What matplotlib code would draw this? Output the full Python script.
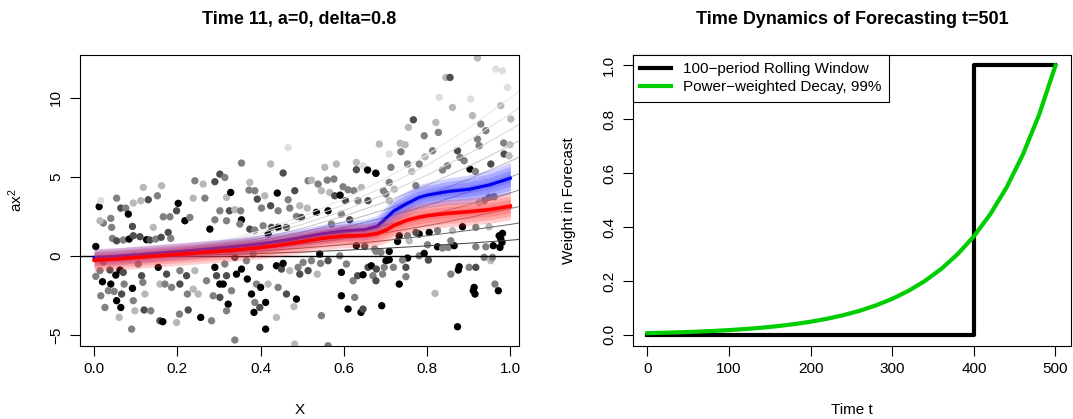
import numpy as np
import matplotlib.pyplot as plt

plt.rcParams['font.family'] = ['Liberation Sans', 'DejaVu Sans']
plt.rcParams['mathtext.fontset'] = 'custom'
plt.rcParams['mathtext.rm'] = 'Liberation Sans'
plt.rcParams['mathtext.it'] = 'Liberation Sans'

# left panel: observations (x, y, grey level 0=black)
pts_x = [0.012, 0.004, 0.016, 0.022, 0.014, 0.040, 0.054, 0.064, 0.076, 0.082,
         0.094, 0.112, 0.130, 0.152, 0.118, 0.162, 0.092, 0.042, 0.044, 0.054,
         0.070, 0.084, 0.094, 0.110, 0.126, 0.134, 0.142, 0.148, 0.161, 0.166,
         0.182, 0.178, 0.184, 0.202, 0.198, 0.218, 0.230, 0.238, 0.242, 0.262,
         0.266, 0.278, 0.290, 0.302, 0.314, 0.318, 0.318, 0.302, 0.290, 0.325,
         0.004, 0.014, 0.020, 0.022, 0.038, 0.040, 0.052, 0.062, 0.070, 0.072,
         0.092, 0.054, 0.064, 0.026, 0.016, 0.034, 0.048, 0.066, 0.094, 0.098,
         0.106, 0.114, 0.117, 0.122, 0.120, 0.136, 0.158, 0.165, 0.090, 0.060,
         0.154, 0.158, 0.174, 0.186, 0.170, 0.206, 0.206, 0.205, 0.198, 0.222,
         0.224, 0.226, 0.238, 0.242, 0.250, 0.256, 0.270, 0.282, 0.290, 0.294,
         0.302, 0.310, 0.314, 0.318, 0.322, 0.302, 0.286, 0.318,
         0.354, 0.424, 0.466, 0.454, 0.554, 0.582, 0.630, 0.646, 0.657, 0.630,
         0.676, 0.374, 0.328, 0.372, 0.386, 0.392, 0.410, 0.440, 0.424, 0.402,
         0.442, 0.466, 0.470, 0.482, 0.494, 0.514, 0.522, 0.534, 0.538, 0.546,
         0.560, 0.562, 0.576, 0.566, 0.578, 0.591, 0.598, 0.604, 0.610, 0.624,
         0.634, 0.642, 0.658, 0.338, 0.352, 0.354, 0.350, 0.374, 0.386, 0.406,
         0.418, 0.442, 0.426, 0.462, 0.486, 0.512, 0.498, 0.570, 0.594, 0.614,
         0.630, 0.650, 0.674, 0.326, 0.338, 0.354, 0.366, 0.368, 0.382, 0.390,
         0.398, 0.418, 0.438, 0.450, 0.454, 0.470, 0.490, 0.502, 0.494, 0.514,
         0.522, 0.536, 0.544, 0.542, 0.562, 0.594, 0.590, 0.606, 0.622, 0.633,
         0.646, 0.658, 0.666, 0.670, 0.678, 0.330, 0.342, 0.378, 0.400, 0.412,
         0.386, 0.398, 0.384, 0.442, 0.462, 0.486, 0.480, 0.438, 0.412, 0.546,
         0.594, 0.626, 0.610, 0.641, 0.646, 0.338, 0.482, 0.562,
         0.921, 0.845, 0.855, 0.965, 0.981, 0.829, 0.905, 0.993, 0.861, 0.977,
         0.767, 0.755, 0.821, 0.909, 0.929, 0.941, 1.001, 0.793, 0.827, 0.735,
         0.747, 0.737, 0.813, 0.795, 0.873, 0.879, 0.921, 0.925, 0.984, 0.999,
         0.985, 0.997, 0.685, 0.709, 0.713, 0.753, 0.763, 0.781, 0.837, 0.849,
         0.889, 0.903, 0.916, 0.953, 0.677, 0.709, 0.695, 0.721, 0.701, 0.773,
         0.709, 0.937, 0.949, 0.961, 0.925, 0.885, 0.917, 0.949, 0.861, 0.825,
         0.805, 0.781, 0.773, 0.753, 0.733, 0.729, 0.757, 0.801, 0.825, 0.837,
         0.851, 0.865, 0.857, 0.917, 0.941, 0.959, 0.973, 0.977, 0.980, 0.975,
         0.981, 0.677, 0.709, 0.689, 0.753, 0.781, 0.793, 0.803, 0.701, 0.709,
         0.697, 0.719, 0.741, 0.749, 0.749, 0.693, 0.733, 0.677, 0.691, 0.819,
         0.857, 0.877, 0.875, 0.901, 0.917, 0.953, 0.957, 0.937, 0.913, 0.911,
         0.915, 0.963, 0.971, 0.873]
pts_y = [3.12, 0.60, 3.50, 2.08, 2.23, 2.38, 3.66, 3.03, 3.03, 2.65,
         3.35, 3.50, 3.56, 3.81, 4.34, 4.45, 1.87, 1.81, 1.11, 0.96,
         1.01, 1.07, 1.28, 1.22, 1.03, 1.01, 1.81, 1.07, 1.18, 2.48,
         2.48, 1.49, 1.11, 3.33, 2.86, 2.23, 2.44, 3.66, 4.76, 4.55,
         3.66, 1.70, 4.70, 5.18, 4.97, 3.71, 2.23, 2.86, 2.29, 2.86,
         -1.29, -0.93, -1.63, -0.37, -0.89, -1.78, -1.21, -0.89, -1.04, -1.78,
         -2.05, -2.83, -3.26, -3.26, -2.52, -2.20, -2.24, -2.41, -2.83, -3.47,
         -0.51, -1.25, -1.67, -2.41, -3.42, -3.47, -4.10, -4.16, -4.63, -3.89,
         -0.72, -1.78, -1.15, -1.99, -1.78, -0.93, -1.78, -3.68, -4.21, -1.25,
         -2.41, -3.42, -2.10, -0.93, -2.41, -3.89, -1.57, -4.10, -0.72, -1.25,
         -1.78, -1.78, -0.51, -1.25, -3.05, -2.62, -2.52, -3.47,
         5.88, 5.82, 6.87, 5.25, 5.61, 5.82, 5.92, 5.71, 5.44, 5.46,
         5.25, 4.66, 4.02, 4.17, 4.13, 3.60, 3.81, 3.98, 3.18, 3.03,
         2.86, 3.56, 3.03, 4.13, 3.18, 4.76, 4.80, 2.76, 4.55, 4.13,
         4.80, 2.86, 4.87, 4.02, 3.81, 3.85, 4.38, 3.50, 4.19, 4.13,
         3.50, 4.34, 3.50, 2.93, 2.86, 2.29, 2.02, 1.70, 1.64, 1.91,
         1.39, 1.81, 1.81, 1.81, 2.50, 3.03, 2.44, 2.02, 2.65, 2.29,
         0.65, 0.60, 0.44, 0.33, -0.09, -0.83, -0.30, -1.46, 0.12, -1.78,
         -0.72, -1.78, -0.62, -0.83, -0.47, -0.93, -0.72, -0.41, -1.15, -0.93,
         -0.30, -1.15, -0.47, 0.12, -0.30, -1.04, 0.01, -0.51, -1.57, -1.25,
         -1.19, -0.72, -0.62, -1.25, -0.83, -2.20, -1.15, -2.41, -1.99, -2.94,
         -2.94, -3.26, -3.57, -1.99, -2.41, -2.73, -3.21, -3.89, -4.63, -3.78,
         -2.52, -2.62, -3.36, -3.57, -3.36, -5.32, -5.58, -5.68,
         12.53, 11.30, 11.30, 11.83, 11.72, 10.04, 9.93, 10.67, 9.40, 9.51,
         8.62, 8.14, 8.45, 8.88, 8.35, 7.93, 8.67, 7.61, 7.82, 7.13,
         7.04, 6.60, 6.66, 6.28, 6.66, 6.24, 7.40, 6.98, 7.15, 7.04,
         6.45, 6.34, 7.08, 6.45, 5.61, 5.82, 5.35, 5.82, 5.44, 5.71,
         6.03, 5.50, 5.35, 5.82, 5.23, 4.66, 4.13, 4.23, 3.92, 4.45,
         3.50, 3.50, 3.71, 3.75, 3.39, 1.85, 1.81, 1.85, 1.60, 1.60,
         1.49, 1.39, 1.49, 1.28, 1.28, 0.92, 0.96, 0.71, 0.58, 0.50,
         0.54, 0.65, 0.96, 0.58, 0.58, 0.65, 1.28, 1.07, 0.86, 0.54,
         1.43, 0.29, 0.29, 0.23, -0.13, 0.01, 0.16, -0.26, -0.30, -0.24,
         -0.72, -0.72, -0.26, -0.72, -1.31, -1.15, -1.78, -1.57, -3.15, -2.37,
         -1.15, -0.68, -0.89, -0.72, -0.72, -0.30, -0.09, -0.09, -1.99, -2.20,
         -2.41, -1.78, -2.20, -4.48]
pts_gray = [0, 0, .87, .5, .72, .5, .5, .3, .5, 0,
            .72, .72, .3, .5, .72, .72, .3, .5, .5, .3,
            .5, 0, .3, .3, 0, .3, .72, .5, .3, .5,
            .5, .3, .5, 0, .3, 0, .5, .72, .5, .72,
            .5, 0, .3, .3, .5, .72, .5, .5, .5, .3,
            .5, .5, 0, .5, .3, 0, 0, 0, .3, .5,
            0, 0, 0, .5, .5, .5, .5, .3, .5, .72,
            .5, .3, .5, .72, .3, .5, .3, 0, .5, .72,
            0, .72, .3, .5, .5, .5, .3, .5, .72, .3,
            .5, .3, .72, .72, .72, 0, .5, .5, 0, .3,
            0, 0, .5, .3, 0, .3, .5, .5,
            .5, .72, .87, .3, .72, .72, .72, .87, 0, .3,
            .5, .72, 0, .5, .5, .3, .72, 0, .3, .5,
            .5, .5, .5, .3, .72, .5, .72, 0, .5, .72,
            .5, 0, .5, .72, .3, 0, .5, .3, .5, .5,
            .5, .72, .3, .72, .5, 0, .5, .3, .5, .5,
            0, 0, .3, .3, .5, .72, .3, .5, .5, .3,
            0, .3, .5, .5, .3, 0, .5, 0, .5, .5,
            .3, .72, 0, .3, 0, .72, .5, .5, .3, .3,
            .5, .72, .5, 0, .3, 0, .5, .5, .5, .3,
            0, .3, 0, .5, .3, .5, 0, 0, 0, 0,
            .5, .3, 0, .5, .3, 0, .72, .72, 0, .5,
            0, .5, 0, 0, .3, .5, .72, .5,
            .72, .72, .3, .87, .87, .87, .87, .87, .72, .72,
            .3, .72, .72, .72, .5, .5, .72, .5, .5, .72,
            .72, .5, .5, .72, .3, .5, .5, .5, .5, .72,
            .3, .72, .72, .87, .5, .5, .72, .5, .5, .5,
            .5, 0, .5, .3, 0, .5, .5, .72, .5, .5,
            .72, .5, .5, .5, .72, 0, .5, .72, .72, .5,
            0, 0, .3, .5, 0, 0, .72, .5, 0, .5,
            .5, 0, .5, .5, .5, 0, 0, 0, 0, 0,
            0, .5, 0, .5, 0, .5, 0, .3, 0, 0,
            .5, .5, .5, .3, .5, .5, 0, .3, 0, .72,
            .5, 0, 0, .5, .3, .72, .5, .5, 0, 0,
            0, .5, 0, 0]

# reference curves a*x^2, a = 1..10, read at these x
guide_x = [0, 0.1, 0.2, 0.3, 0.4, 0.5, 0.6, 0.7, 0.8, 0.9, 1.0, 1.02]
guide_y = [
    [0, .01, .04, .09, .16, .25, .36, .49, .64, .81, 1.0, 1.04],
    [0, .02, .08, .18, .32, .50, .72, .98, 1.28, 1.62, 2.0, 2.08],
    [0, .03, .12, .27, .48, .75, 1.08, 1.47, 1.92, 2.43, 3.0, 3.12],
    [0, .04, .16, .36, .64, 1.0, 1.44, 1.96, 2.56, 3.24, 4.0, 4.16],
    [0, .05, .20, .45, .80, 1.25, 1.80, 2.45, 3.20, 4.05, 5.0, 5.20],
    [0, .06, .24, .54, .96, 1.50, 2.16, 2.94, 3.84, 4.86, 6.0, 6.24],
    [0, .07, .28, .63, 1.12, 1.75, 2.52, 3.43, 4.48, 5.67, 7.0, 7.28],
    [0, .08, .32, .72, 1.28, 2.0, 2.88, 3.92, 5.12, 6.48, 8.0, 8.32],
    [0, .09, .36, .81, 1.44, 2.25, 3.24, 4.41, 5.76, 7.29, 9.0, 9.36],
    [0, .10, .40, .90, 1.60, 2.50, 3.60, 4.90, 6.40, 8.10, 10.0, 10.40],
]
guide_gray = ['0.25', '0.4', '0.5', '0.58', '0.65', '0.72', '0.78', '0.83', '0.87', '0.9']

# forecast bands
band_x = [0, .05, .1, .15, .2, .25, .3, .35, .4, .45, .5, .55, .6, .65, .68,
          .7, .72, .75, .78, .8, .85, .9, .95, 1.0]
red_mean = [-0.27, -0.2, -0.1, 0.0, 0.1, 0.2, 0.3, 0.4, 0.53, 0.7, 0.9, 1.12,
            1.26, 1.3, 1.42, 1.62, 1.92, 2.25, 2.45, 2.55, 2.7, 2.8, 2.93, 3.15]
red_hw = [0.7, 0.7, 0.7, 0.7, 0.7, 0.7, 0.7, 0.7, 0.7, 0.71, 0.72, 0.73,
          0.74, 0.76, 0.78, 0.8, 0.82, 0.84, 0.85, 0.86, 0.86, 0.86, 0.86, 0.86]
blue_mean = [-0.1, -0.03, 0.07, 0.17, 0.27, 0.38, 0.5, 0.62, 0.77, 0.95, 1.17,
             1.4, 1.58, 1.66, 1.88, 2.35, 2.85, 3.3, 3.7, 3.85, 4.08, 4.22, 4.5, 4.92]
blue_hw = [0.55, 0.55, 0.55, 0.55, 0.55, 0.55, 0.55, 0.55, 0.56, 0.57, 0.58, 0.6,
           0.62, 0.65, 0.68, 0.74, 0.78, 0.8, 0.8, 0.8, 0.85, 0.9, 0.95, 1.0]

# right panel
roll_t = [0, 400, 400, 500]
roll_w = [0, 0, 1, 1]
decay_t = list(range(0, 501, 20))
decay_w = [0.0066, 0.0080, 0.0098, 0.0120, 0.0147, 0.0180, 0.0219, 0.0268,
           0.0328, 0.0401, 0.0490, 0.0600, 0.0733, 0.0896, 0.1096, 0.1340,
           0.1638, 0.2003, 0.2449, 0.2994, 0.3660, 0.4475, 0.5472, 0.6690,
           0.8179, 1.0]

fig = plt.figure(figsize=(10.73, 4.19), dpi=100)
ax1 = fig.add_axes([0.07456, 0.17494, 0.40885, 0.69451])
ax2 = fig.add_axes([0.58966, 0.17494, 0.40848, 0.69451])

# ---- left
ax1.scatter(pts_x, pts_y, s=28, c=[str(g) for g in pts_gray], linewidths=0, zorder=1)
for gy, gc in zip(guide_y, guide_gray):
    ax1.plot(guide_x, gy, color=gc, lw=0.7, zorder=2)
ax1.axhline(0, color='black', lw=1.0, zorder=2)

bx = np.array(band_x)
bm, bw = np.array(blue_mean), np.array(blue_hw)
rm, rw = np.array(red_mean), np.array(red_hw)
for f in (1.0, 0.75, 0.5, 0.25):
    ax1.fill_between(bx, bm - f * bw, bm + f * bw, color='#3030ff', alpha=0.22, lw=0, zorder=3)
ax1.plot(bx, bm, color='#0000ee', lw=2.2, zorder=4)
for f in (1.0, 0.75, 0.5, 0.25):
    ax1.fill_between(bx, rm - f * rw, rm + f * rw, color='#ff3c3c', alpha=0.25, lw=0, zorder=5)
ax1.plot(bx, rm, color='#ff0000', lw=2.6, zorder=6)

ax1.set_xlim(-0.034, 1.020)
ax1.set_ylim(-5.68, 12.74)
ax1.set_xticks([0.0, 0.2, 0.4, 0.6, 0.8, 1.0])
ax1.set_xticklabels(['0.0', '0.2', '0.4', '0.6', '0.8', '1.0'])
ax1.set_yticks([-5, 0, 5, 10])
ax1.set_title('Time 11, a=0, delta=0.8', fontsize=13, fontweight='bold', pad=22)
ax1.set_xlabel('X', fontsize=11, va='center')
ax1.set_ylabel(r'ax$^{2}$', fontsize=11, va='center')
ax1.xaxis.set_label_coords(0.5, -0.221)
ax1.yaxis.set_label_coords(-0.147, 0.5)

# ---- right
ax2.plot(roll_t, roll_w, color='black', lw=3, label='100−period Rolling Window')
ax2.plot(decay_t, decay_w, color='#00cd00', lw=3, label='Power−weighted Decay, 99%')
ax2.set_xlim(-18, 519)
ax2.set_ylim(-0.04, 1.04)
ax2.set_xticks([0, 100, 200, 300, 400, 500])
ax2.set_yticks([0.0, 0.2, 0.4, 0.6, 0.8, 1.0])
ax2.set_yticklabels(['0.0', '0.2', '0.4', '0.6', '0.8', '1.0'])
ax2.set_title('Time Dynamics of Forecasting t=501', fontsize=13, fontweight='bold', pad=22)
ax2.set_xlabel('Time t', fontsize=11, va='center')
ax2.set_ylabel('Weight in Forecast', fontsize=11, va='center')
ax2.xaxis.set_label_coords(0.5, -0.221)
ax2.yaxis.set_label_coords(-0.145, 0.5)
leg = ax2.legend(loc='upper left', borderaxespad=0, fontsize=11, fancybox=False,
                 handlelength=2.0, handletextpad=0.8, borderpad=0.5,
                 labelspacing=0.25, framealpha=1)
leg.get_frame().set_edgecolor('black')
leg.get_frame().set_linewidth(0.8)

for ax in (ax1, ax2):
    for s in ax.spines.values():
        s.set_linewidth(0.8)
        s.set_color('black')
    ax.tick_params(direction='out', length=7, width=0.8, labelsize=11, pad=5)
    for lab in ax.get_yticklabels():
        lab.set_rotation(90)
        lab.set_va('center')

plt.savefig('out.png', dpi=100)
